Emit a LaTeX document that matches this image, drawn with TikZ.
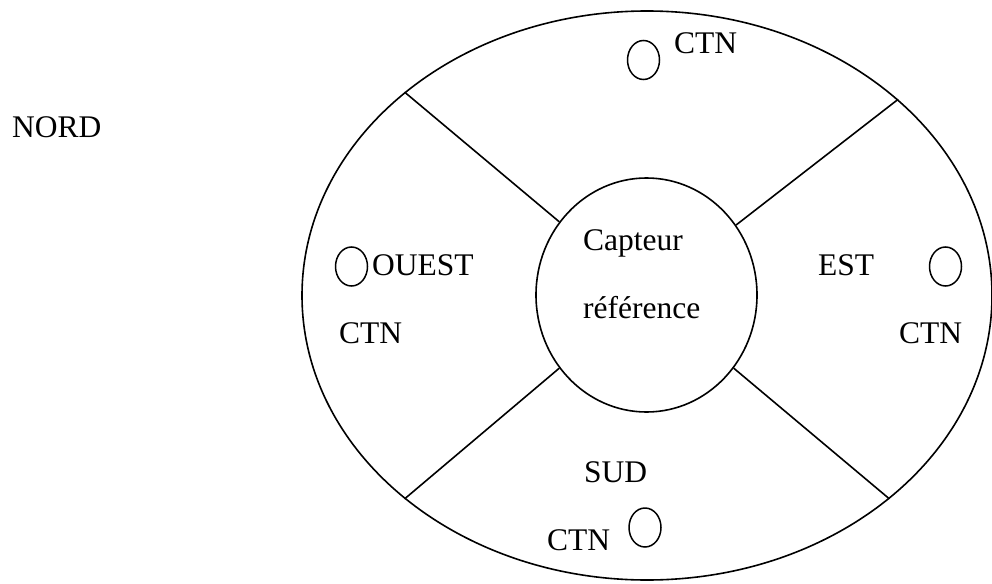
\documentclass[tikz,border=0pt]{standalone}
\usepackage{fontspec}
\setmainfont{Liberation Serif}
\usetikzlibrary{shapes.geometric}
\begin{document}
\begin{tikzpicture}[x=1pt,y=-1pt,
  lbl/.style={inner sep=0pt,anchor=base west,font=\fontsize{31.5}{36}\selectfont},
  ring/.style={ellipse,draw,line width=1.6pt,inner sep=0pt},
  ctn/.style={ellipse,draw,line width=1.5pt,inner sep=0pt,minimum width=32pt,minimum height=39pt},
  spoke/.style={line width=1.6pt}]
\useasboundingbox (0,0) rectangle (992,583);
\node[ring,minimum width=690pt,minimum height=569pt] (outer) at (647,295.5) {};
\node[ring,minimum width=221pt,minimum height=234pt] (inner) at (646.5,295) {};
\draw[spoke] (outer.140) -- (inner.140);
\draw[spoke] (outer.38.5) -- (inner.38.5);
\draw[spoke] (outer.220) -- (inner.220);
\draw[spoke] (outer.320.8) -- (inner.320.8);
\node[ctn] (cn) at (643.5,60) {};
\node[ctn] (cw) at (351.5,266.5) {};
\node[ctn] (ce) at (945.5,266.5) {};
\node[ctn] (cs) at (645,527.5) {};
\node[lbl] (nord) at (12,137) {NORD};
\node[lbl] (tn) at (674,54) {CTN};
\node[lbl] (ouest) at (372,275) {OUEST};
\node[lbl] (est) at (818,275) {EST};
\node[lbl] (cap) at (583,250) {Capteur};
\node[lbl] (ref) at (583,318) {référence};
\node[lbl] (tw) at (339,343) {CTN};
\node[lbl] (te) at (899,343) {CTN};
\node[lbl] (sud) at (584,482) {SUD};
\node[lbl] (ts) at (547,550) {CTN};
\end{tikzpicture}
\end{document}
